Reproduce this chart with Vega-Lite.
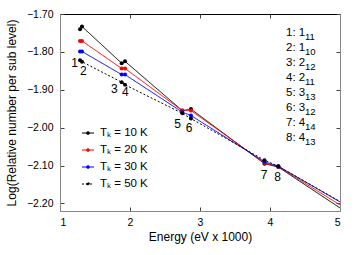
{
  "$schema": "https://vega.github.io/schema/vega-lite/v6.json",
  "width": 280,
  "height": 197,
  "autosize": {"type": "none"},
  "padding": {"left": 60, "top": 14, "right": 19, "bottom": 44},
  "config": {
    "font": "Liberation Sans",
    "view": {"stroke": null},
    "axis": {"grid": false, "labelFont": "Liberation Sans", "titleFont": "Liberation Sans", "labelColor": "#000", "titleColor": "#000", "titleFontWeight": "normal", "tickColor": "#444", "domainColor": "#888", "labelFontSize": 10.5, "titleFontSize": 12}
  },
  "datasets": {
    "lines": [
      {"T": "Tₖ = 10 K", "E": 1.286, "v": -1.740, "m": 1},
      {"T": "Tₖ = 10 K", "E": 1.314, "v": -1.733, "m": 1},
      {"T": "Tₖ = 10 K", "E": 1.881, "v": -1.830, "m": 1},
      {"T": "Tₖ = 10 K", "E": 1.929, "v": -1.825, "m": 1},
      {"T": "Tₖ = 10 K", "E": 2.747, "v": -1.955, "m": 1},
      {"T": "Tₖ = 10 K", "E": 2.871, "v": -1.951, "m": 1},
      {"T": "Tₖ = 10 K", "E": 3.921, "v": -2.095, "m": 1},
      {"T": "Tₖ = 10 K", "E": 4.119, "v": -2.104, "m": 1},
      {"T": "Tₖ = 10 K", "E": 5.0, "v": -2.212, "m": 0},
      {"T": "Tₖ = 20 K", "E": 1.286, "v": -1.771, "m": 1},
      {"T": "Tₖ = 20 K", "E": 1.314, "v": -1.771, "m": 1},
      {"T": "Tₖ = 20 K", "E": 1.881, "v": -1.844, "m": 1},
      {"T": "Tₖ = 20 K", "E": 1.929, "v": -1.844, "m": 1},
      {"T": "Tₖ = 20 K", "E": 2.747, "v": -1.955, "m": 1},
      {"T": "Tₖ = 20 K", "E": 2.871, "v": -1.955, "m": 1},
      {"T": "Tₖ = 20 K", "E": 3.921, "v": -2.093, "m": 1},
      {"T": "Tₖ = 20 K", "E": 4.119, "v": -2.103, "m": 1},
      {"T": "Tₖ = 20 K", "E": 5.0, "v": -2.204, "m": 0},
      {"T": "Tₖ = 30 K", "E": 1.286, "v": -1.799, "m": 1},
      {"T": "Tₖ = 30 K", "E": 1.314, "v": -1.799, "m": 1},
      {"T": "Tₖ = 30 K", "E": 1.881, "v": -1.860, "m": 1},
      {"T": "Tₖ = 30 K", "E": 1.929, "v": -1.860, "m": 1},
      {"T": "Tₖ = 30 K", "E": 2.747, "v": -1.959, "m": 1},
      {"T": "Tₖ = 30 K", "E": 2.871, "v": -1.968, "m": 1},
      {"T": "Tₖ = 30 K", "E": 3.921, "v": -2.090, "m": 1},
      {"T": "Tₖ = 30 K", "E": 4.119, "v": -2.102, "m": 1},
      {"T": "Tₖ = 30 K", "E": 5.0, "v": -2.196, "m": 0},
      {"T": "Tₖ = 50 K", "E": 1.286, "v": -1.822, "m": 1},
      {"T": "Tₖ = 50 K", "E": 1.314, "v": -1.826, "m": 1},
      {"T": "Tₖ = 50 K", "E": 1.881, "v": -1.880, "m": 1},
      {"T": "Tₖ = 50 K", "E": 1.929, "v": -1.887, "m": 1},
      {"T": "Tₖ = 50 K", "E": 2.747, "v": -1.962, "m": 1},
      {"T": "Tₖ = 50 K", "E": 2.871, "v": -1.976, "m": 1},
      {"T": "Tₖ = 50 K", "E": 3.921, "v": -2.086, "m": 1},
      {"T": "Tₖ = 50 K", "E": 4.119, "v": -2.102, "m": 1},
      {"T": "Tₖ = 50 K", "E": 5.0, "v": -2.195, "m": 0}
    ],
    "ptlabels": [
      {"n": "1", "E": 1.21, "v": -1.830},
      {"n": "2", "E": 1.333, "v": -1.850},
      {"n": "3", "E": 1.776, "v": -1.898},
      {"n": "4", "E": 1.933, "v": -1.907},
      {"n": "5", "E": 2.681, "v": -1.990},
      {"n": "6", "E": 2.843, "v": -2.001},
      {"n": "7", "E": 3.914, "v": -2.126},
      {"n": "8", "E": 4.11, "v": -2.129}
    ],
    "levels": [
      {"k": "1: 1", "s": "11", "E": 4.229, "v": -1.750},
      {"k": "2: 1", "s": "10", "E": 4.229, "v": -1.7895},
      {"k": "3: 2", "s": "12", "E": 4.229, "v": -1.829},
      {"k": "4: 2", "s": "11", "E": 4.229, "v": -1.869},
      {"k": "5: 3", "s": "13", "E": 4.229, "v": -1.908},
      {"k": "6: 3", "s": "12", "E": 4.229, "v": -1.948},
      {"k": "7: 4", "s": "14", "E": 4.229, "v": -1.987},
      {"k": "8: 4", "s": "13", "E": 4.229, "v": -2.027}
    ]
  },
  "layer": [
    {
      "data": {"name": "lines"},
      "mark": {"type": "point", "opacity": 0},
      "encoding": {
        "x": {"field": "E", "type": "quantitative", "scale": {"domain": [1, 5], "nice": false}, "axis": {"orient": "top", "labels": false, "title": null, "values": [1, 2, 3, 4, 5], "tickSize": -4, "domainColor": "#000", "tickColor": "#444"}},
        "y": {"field": "v", "type": "quantitative", "scale": {"domain": [-2.22, -1.7], "nice": false, "zero": false}, "axis": {"orient": "right", "labels": false, "title": null, "values": [-1.7, -1.8, -1.9, -2.0, -2.1, -2.2], "tickSize": -4}}
      }
    },
    {
      "data": {"name": "lines"},
      "mark": {"type": "line", "strokeWidth": 1},
      "encoding": {
        "x": {"field": "E", "type": "quantitative", "axis": {"orient": "bottom", "title": "Energy (eV x 1000)", "values": [1, 2, 3, 4, 5], "format": "d", "tickSize": -4, "labelPadding": 10, "titlePadding": 4}},
        "y": {"field": "v", "type": "quantitative", "axis": {"orient": "left", "title": "Log(Relative number per sub level)", "values": [-1.7, -1.8, -1.9, -2.0, -2.1, -2.2], "format": ".2f", "tickSize": -4, "labelPadding": 11, "titlePadding": 8}},
        "color": {"field": "T", "type": "nominal", "title": null, "scale": {"domain": ["Tₖ = 10 K", "Tₖ = 20 K", "Tₖ = 30 K", "Tₖ = 50 K"], "range": ["#000000", "#ff0000", "#0000ff", "#000000"]},
          "legend": {"orient": "bottom-left", "offset": 21, "padding": 0, "rowPadding": 4, "labelFontSize": 11.5, "labelFont": "Liberation Sans", "labelOffset": 5, "symbolType": "M-1,0H1M0,-0.2A0.2,0.2 0 1,1 0,0.2A0.2,0.2 0 1,1 0,-0.2", "symbolSize": 144, "symbolStrokeWidth": 1.2}},
        "strokeDash": {"field": "T", "type": "nominal", "title": null, "scale": {"domain": ["Tₖ = 10 K", "Tₖ = 20 K", "Tₖ = 30 K", "Tₖ = 50 K"], "range": [[1, 0], [1, 0], [1, 0], [2, 2]]},
          "legend": {"orient": "bottom-left", "offset": 21, "padding": 0, "rowPadding": 4, "labelFontSize": 11.5, "labelFont": "Liberation Sans", "labelOffset": 5, "symbolType": "M-1,0H1M0,-0.2A0.2,0.2 0 1,1 0,0.2A0.2,0.2 0 1,1 0,-0.2", "symbolSize": 144, "symbolStrokeWidth": 1.2}}
      }
    },
    {
      "data": {"name": "lines"},
      "transform": [{"filter": "datum.m == 1"}],
      "mark": {"type": "circle", "size": 16, "opacity": 1},
      "encoding": {
        "x": {"field": "E", "type": "quantitative", "axis": null},
        "y": {"field": "v", "type": "quantitative", "axis": null},
        "color": {"field": "T", "type": "nominal"}
      }
    },
    {
      "data": {"name": "ptlabels"},
      "mark": {"type": "text", "fontSize": 12, "font": "Liberation Sans", "align": "center", "baseline": "middle", "color": "#000"},
      "encoding": {
        "x": {"field": "E", "type": "quantitative", "axis": null},
        "y": {"field": "v", "type": "quantitative", "axis": null},
        "text": {"field": "n"}
      }
    },
    {
      "data": {"name": "levels"},
      "mark": {"type": "text", "fontSize": 11.5, "font": "Liberation Sans", "align": "left", "baseline": "middle", "color": "#000"},
      "encoding": {
        "x": {"field": "E", "type": "quantitative", "axis": null},
        "y": {"field": "v", "type": "quantitative", "axis": null},
        "text": {"field": "k"}
      }
    },
    {
      "data": {"name": "levels"},
      "mark": {"type": "text", "fontSize": 9.5, "font": "Liberation Sans", "align": "left", "baseline": "middle", "color": "#000", "dx": 19, "dy": 4},
      "encoding": {
        "x": {"field": "E", "type": "quantitative", "axis": null},
        "y": {"field": "v", "type": "quantitative", "axis": null},
        "text": {"field": "s"}
      }
    }
  ],
  "resolve": {"axis": {"x": "independent", "y": "independent"}}
}
